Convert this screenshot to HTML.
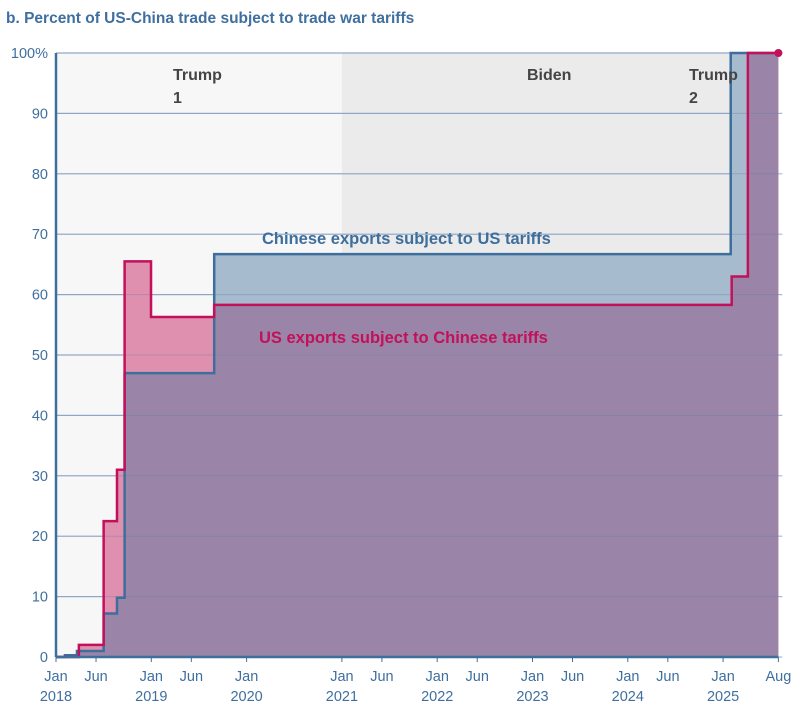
<!DOCTYPE html>
<html><head><meta charset="utf-8"><style>
body{margin:0;background:#fff;width:800px;height:711px;overflow:hidden;font-family:"Liberation Sans",sans-serif}
</style></head><body>
<svg width="800" height="711" xmlns="http://www.w3.org/2000/svg">
<text x="6" y="23" font-size="15.5" font-weight="bold" fill="#3f6f9f">b. Percent of US-China trade subject to trade war tariffs</text>
<g id="bg"></g><g id="grid"></g><g id="areas"></g><g id="lines"></g><g id="labels"></g>
</svg>
<script>
const NS="http://www.w3.org/2000/svg";
const chinaX=[2018.0,2018.094,2018.22,2018.50,2018.64,2018.72,2019.66,2025.08,2025.58];
const chinaY=[0,0.3,1,7.2,9.8,47,66.7,100,100];
const usX=[2018.0,2018.24,2018.50,2018.64,2018.72,2018.997,2019.66,2025.09,2025.26,2025.58];
const usY=[0,2,22.5,31,65.5,56.3,58.3,63,100,100];
const yTicks=[0,10,20,30,40,50,60,70,80,90,100];
const xTickDates=[2018,2018.42,2019,2019.42,2020,2021,2021.42,2022,2022.42,2023,2023.42,2024,2024.42,2025,2025.58];
const xTickL1=["Jan","Jun","Jan","Jun","Jan","Jan","Jun","Jan","Jun","Jan","Jun","Jan","Jun","Jan","Aug"];
const xTickL2=["2018","","2019","","2020","2021","","2022","","2023","","2024","","2025",""];
const X=t=>56+(t-2018)*95.3, Y=v=>657-v*6.04;
const svg=document.querySelector('svg');
function mk(tag,attrs,parent){const e=document.createElementNS(NS,tag);for(const k in attrs)e.setAttribute(k,attrs[k]);document.getElementById(parent).appendChild(e);return e;}
let b1=mk('rect',{x:X(2018),y:Y(100),width:X(2021)-X(2018),height:Y(0)-Y(100),fill:'#f7f7f7'},'bg');


let b2=mk('rect',{x:X(2021),y:Y(100),width:X(2025.08)-X(2021),height:Y(0)-Y(100),fill:'#ebebeb'},'bg');


yTicks.forEach(v=>{
  let l=mk('line',{x1:X(2018),x2:X(2025.58)+4,y1:Y(v),y2:Y(v),stroke:'#a3bdd6','stroke-width':1.2},'grid');
  
  
  let t=mk('text',{x:48,y:Y(v)+5,'text-anchor':'end','font-size':14.5,fill:'#3f6f9f'},'labels');
  t.textContent=v===100?'100%':String(v);
  
  
});
xTickDates.forEach((d,i)=>{
  let tk=mk('line',{x1:X(d),x2:X(d),y1:Y(0),y2:Y(0)+5,stroke:'#3f6f9f'},'grid');
  
  
  let t=mk('text',{x:X(d),y:681,'text-anchor':'middle','font-size':14.5,fill:'#3f6f9f'},'labels');
  t.textContent=xTickL1[i];
  
  
  if(xTickL2[i]){let t2=mk('text',{x:X(d),y:701,'text-anchor':'middle','font-size':14.5,fill:'#3f6f9f'},'labels');
  t2.textContent=xTickL2[i];
  
  }
});
function stepPath(xs,ys){let p=`M${X(xs[0])},${Y(0)} L${X(xs[0])},${Y(ys[0])}`;for(let i=1;i<xs.length;i++){p+=` L${X(xs[i])},${Y(ys[i-1])} L${X(xs[i])},${Y(ys[i])}`;}return p;}
function areaPath(xs,ys){return stepPath(xs,ys)+` L${X(xs[xs.length-1])},${Y(0)} Z`;}
const defs=document.createElementNS(NS,'defs');svg.appendChild(defs);
const cp=document.createElementNS(NS,'clipPath');cp.setAttribute('id','cb');defs.appendChild(cp);
const cpp=document.createElementNS(NS,'path');cpp.setAttribute('d',areaPath(chinaX,chinaY));cp.appendChild(cpp);
let a1=mk('path',{d:areaPath(chinaX,chinaY),fill:'#a7bbcf'},'areas');


let a2=mk('path',{d:areaPath(usX,usY),fill:'#df90ae'},'areas');


let a3=mk('path',{d:areaPath(usX,usY),fill:'#9a85a8','clip-path':'url(#cb)'},'areas');


yTicks.forEach(v=>{let l=mk('line',{x1:X(2018),x2:X(2025.58),y1:Y(v),y2:Y(v),stroke:'#6f7fa5','stroke-width':1,opacity:0.4},'areas');

});
let l1=mk('path',{d:stepPath(chinaX,chinaY),fill:'none',stroke:'#3d6e9c','stroke-width':2.5},'lines');


let l2=mk('path',{d:stepPath(usX,usY),fill:'none',stroke:'#c3105a','stroke-width':2.5},'lines');


let dot=mk('circle',{cx:X(usX[usX.length-1]),cy:Y(usY[usY.length-1]),r:4,fill:'#c3105a'},'lines');


let ax=mk('line',{x1:X(2018),x2:X(2018),y1:Y(100),y2:Y(0),stroke:'#3d6e9c','stroke-width':2.5},'lines');


let bx=mk('line',{x1:X(2018),x2:X(2025.58),y1:Y(0),y2:Y(0),stroke:'#3d6e9c','stroke-width':2.5},'lines');


const ann=[["Trump",173,80,'trump1-label'],["1",173,103,'trump1-label-num'],["Biden",527,80,'biden-label'],["Trump",689,80,'trump2-label'],["2",689,103,'trump2-label-num']];
ann.forEach(a=>{let t=mk('text',{x:a[1],y:a[2],'font-size':16,'font-weight':'bold',fill:'#444'},'labels');t.textContent=a[0];

});
let s1=mk('text',{x:262,y:244,'font-size':16.5,'font-weight':'bold',fill:'#3d6e9c'},'labels');s1.textContent='Chinese exports subject to US tariffs';


let s2=mk('text',{x:259,y:343,'font-size':16.5,'font-weight':'bold',fill:'#c3105a'},'labels');s2.textContent='US exports subject to Chinese tariffs';


</script>
</body></html>
